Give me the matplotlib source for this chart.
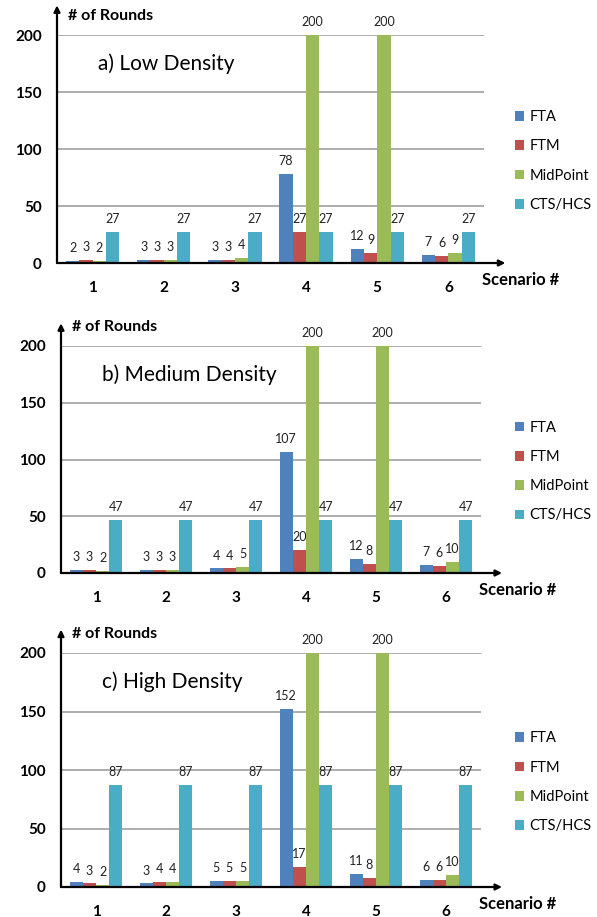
import numpy as np
from matplotlib import pyplot as plt

plt.rcParams['font.family'] = ['Lato', 'DejaVu Sans']

W, H = 597, 917

scenarios = ['1', '2', '3', '4', '5', '6']
series_names = ['FTA', 'FTM', 'MidPoint', 'CTS/HCS']
colors = ['#4F81BD', '#C0504D', '#9BBB59', '#4BACC6']
y_ticks = [0, 50, 100, 150, 200]

low_fta = [2, 3, 3, 78, 12, 7]
low_ftm = [3, 3, 3, 27, 9, 6]
low_mid = [2, 3, 4, 200, 200, 9]
low_cts = [27, 27, 27, 27, 27, 27]

med_fta = [3, 3, 4, 107, 12, 7]
med_ftm = [3, 3, 4, 20, 8, 6]
med_mid = [2, 3, 5, 200, 200, 10]
med_cts = [47, 47, 47, 47, 47, 47]

high_fta = [4, 3, 5, 152, 11, 6]
high_ftm = [3, 4, 5, 17, 8, 6]
high_mid = [2, 4, 5, 200, 200, 10]
high_cts = [87, 87, 87, 87, 87, 87]


def px(x, y):
    """pixel position -> figure fraction"""
    return x / W, 1 - y / H


def draw_panel(fig, box, series, title, arrow_top):
    """box = (left, right, y of zero, y of 200) in pixels"""
    left, right, y0, y200 = box
    ax = fig.add_axes([left / W, 1 - y0 / H, (right - left) / W, (y0 - y200) / H])
    x = np.arange(1, len(scenarios) + 1)
    width = 0.1875
    for i, vals in enumerate(series):
        pos = x + (i - 1.5) * width
        bars = ax.bar(pos, vals, width, color=colors[i], label=series_names[i], zorder=3)
        for b, v in zip(bars, vals):
            ax.annotate(str(v), (b.get_x() + b.get_width() / 2, v), xytext=(0, 5),
                        textcoords='offset points', ha='center', va='bottom',
                        fontsize=9, color='#222222', annotation_clip=False)
    ax.set_xlim(0.5, 6.5)
    ax.set_ylim(0, 200)
    ax.set_yticks(y_ticks)
    ax.set_xticks(x)
    ax.set_xticklabels(scenarios)
    ax.tick_params(length=0)
    ax.tick_params(axis='x', pad=13)
    ax.tick_params(axis='y', pad=11)
    for lab in ax.get_xticklabels() + ax.get_yticklabels():
        lab.set_fontweight('bold')
        lab.set_fontsize(11)
    for yv in y_ticks[1:]:
        ax.axhline(yv, color='#A0A0A0', lw=1.2, zorder=1)
    for s in ax.spines.values():
        s.set_visible(False)
    ax.annotate('', xy=(0, arrow_top), xytext=(0, 0), xycoords='axes fraction',
                arrowprops=dict(arrowstyle='-|>', color='black', lw=1.6, mutation_scale=9,
                                shrinkA=0, shrinkB=0), annotation_clip=False)
    ax.annotate('', xy=(1.05, 0), xytext=(0, 0), xycoords='axes fraction',
                arrowprops=dict(arrowstyle='-|>', color='black', lw=1.6, mutation_scale=9,
                                shrinkA=0, shrinkB=0), annotation_clip=False)
    fig.text(*px(left + 11, y200 - 19), '# of Rounds', fontsize=11.5, fontweight='bold', va='center')
    fig.text(*px(right - 2, y0 + 17), 'Scenario #', fontsize=12, fontweight='bold', va='center')
    fig.text(*px(left + 41, y200 + 29), title, fontsize=15, va='center')
    ax.legend(loc='center left', bbox_to_anchor=((509 - left) / (right - left), 0.447),
              frameon=False, fontsize=10.5, handlelength=0.65, handleheight=0.65,
              handletextpad=0.35, labelspacing=1.05, borderaxespad=0)
    return ax


fig = plt.figure(figsize=(W / 100, H / 100), dpi=100)
draw_panel(fig, (57, 484, 263, 35), [low_fta, low_ftm, low_mid, low_cts], 'a) Low Density', 1.13)
draw_panel(fig, (61, 481, 573, 346), [med_fta, med_ftm, med_mid, med_cts], 'b) Medium Density', 1.10)
draw_panel(fig, (61, 481, 887, 653), [high_fta, high_ftm, high_mid, high_cts], 'c) High Density', 1.10)
fig.savefig('out.png', dpi=100)
